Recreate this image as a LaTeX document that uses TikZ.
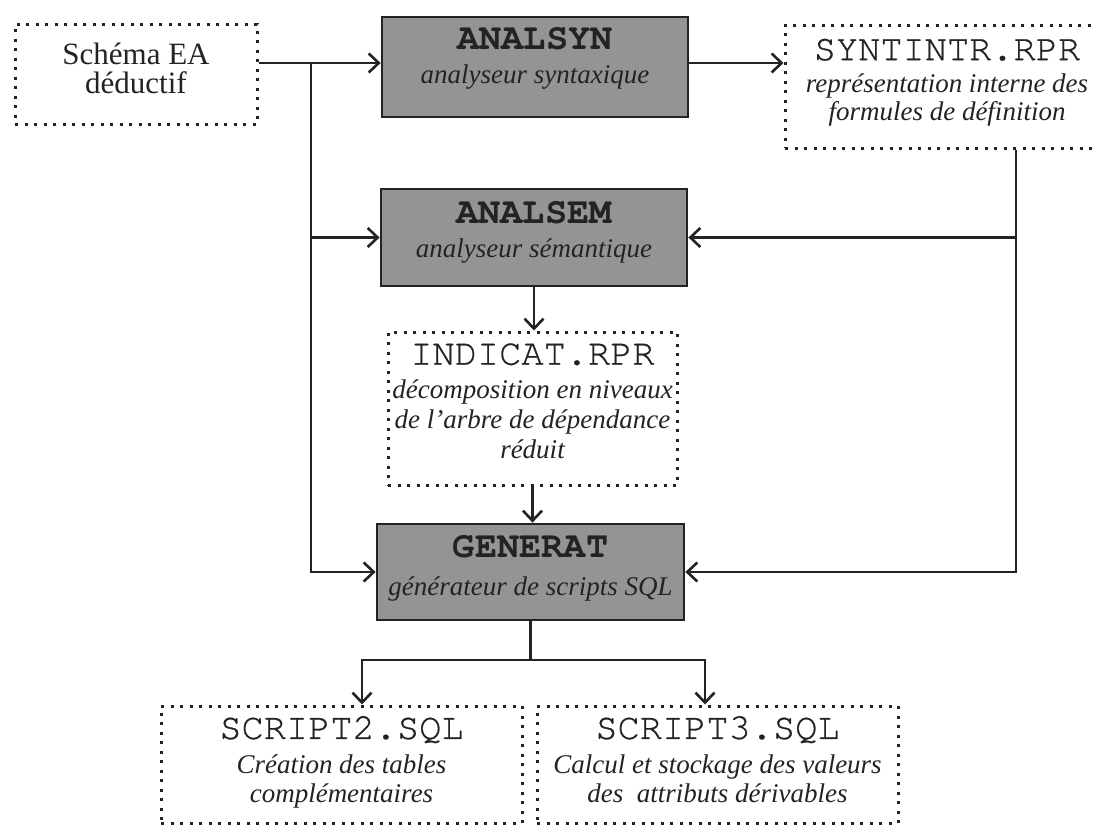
\documentclass[tikz,border=0pt]{standalone}
\usepackage{fontspec}
\setmainfont{Liberation Serif}
\newfontfamily\cursorfont{texgyrecursor}[Extension=.otf, UprightFont=*-regular, BoldFont=*-bold, UprightFeatures={FakeBold=0.7}]
\usetikzlibrary{arrows.meta}
\definecolor{procgray}{RGB}{148,148,148}
\definecolor{ink}{RGB}{35,35,35}
\newcommand\mononame[1]{{\upshape\cursorfont\bfseries\fontsize{37}{40}\selectfont #1}}
\newcommand\monofile[1]{{\upshape\cursorfont\fontsize{37}{40}\selectfont #1}}
\tikzset{
  procbox/.style={draw=ink, line width=2.8pt, fill=procgray, inner sep=0pt, align=center,
    text=ink, font=\fontsize{27}{30}\selectfont\itshape},
  filebox/.style={draw=ink, line width=3pt, dash pattern=on 3pt off 6.5pt, inner sep=0pt,
    align=center, text=ink, font=\fontsize{27}{30}\selectfont\itshape},
  conn/.style={line width=2.6pt, draw=ink},
  arr/.style={conn, -{Straight Barb[length=10pt,width=19pt]}},
}
\begin{document}
\begin{tikzpicture}[x=1pt,y=-1pt]
\useasboundingbox[fill=white] (0,0) rectangle (1096,825);

\node[filebox, minimum width=242pt, minimum height=100pt, text depth=12.5pt, font=\fontsize{31}{29}\selectfont\upshape] (schema) at (136,74) {Schéma EA\\déductif};
\node[procbox, minimum width=306pt, minimum height=100pt, text depth=23.5pt] (analsyn) at (535,67) {\mononame{ANALSYN}\\[4pt]analyseur syntaxique};
\node[filebox, minimum width=324pt, minimum height=123pt, text depth=14pt] (syntintr) at (947,86.5) {\monofile{SYNTINTR.RPR}\\[2pt]représentation interne des\\[-2pt]formules de définition};
\node[procbox, minimum width=306pt, minimum height=97pt, text depth=16.5pt] (analsem) at (534,237.5) {\mononame{ANALSEM}\\[4pt]analyseur sémantique};
\node[filebox, minimum width=289pt, minimum height=153pt, text depth=15pt] (indicat) at (532.5,408.5) {\monofile{INDICAT.RPR}\\[4pt]décomposition en niveaux\\de l'arbre de dépendance\\réduit};
\node[procbox, minimum width=307pt, minimum height=96pt, text depth=13.5pt] (generat) at (530.5,572) {\mononame{GENERAT}\\[8pt]générateur de scripts SQL};
\node[filebox, minimum width=361pt, minimum height=117pt, text depth=10pt] (script2) at (341.5,764.5) {\monofile{SCRIPT2.SQL}\\[5pt]Création des tables\\[-1pt]complémentaires};
\node[filebox, minimum width=361pt, minimum height=117pt, text depth=10pt] (script3) at (717.5,764.5) {\monofile{SCRIPT3.SQL}\\[5pt]Calcul et stockage des valeurs\\[-1pt]des\ \ attributs dérivables};

\coordinate (jA) at (311,63);
\coordinate (jR) at (1016,0);
\coordinate (split) at (530.5,660);
\coordinate (bl) at (362,0);
\coordinate (br) at (705,0);

\draw[arr] (schema.east |- jA) -- (analsyn.west |- jA);
\draw[arr] (analsyn.east |- jA) -- (syntintr.west |- jA);
\draw[arr] (jA) |- (generat.west);
\draw[arr] (jA |- analsem.west) -- (analsem.west);
\draw[arr] (syntintr.south -| jR) |- (generat.east);
\draw[arr] (jR |- analsem.east) -- (analsem.east);
\draw[arr] (analsem.south) -- (analsem.south |- indicat.north);
\draw[arr] (indicat.south) -- (indicat.south |- generat.north);
\draw[conn] (generat.south) -- (split);
\draw[arr] (split) -| (bl |- script2.north);
\draw[arr] (split) -| (br |- script3.north);
\end{tikzpicture}
\end{document}
